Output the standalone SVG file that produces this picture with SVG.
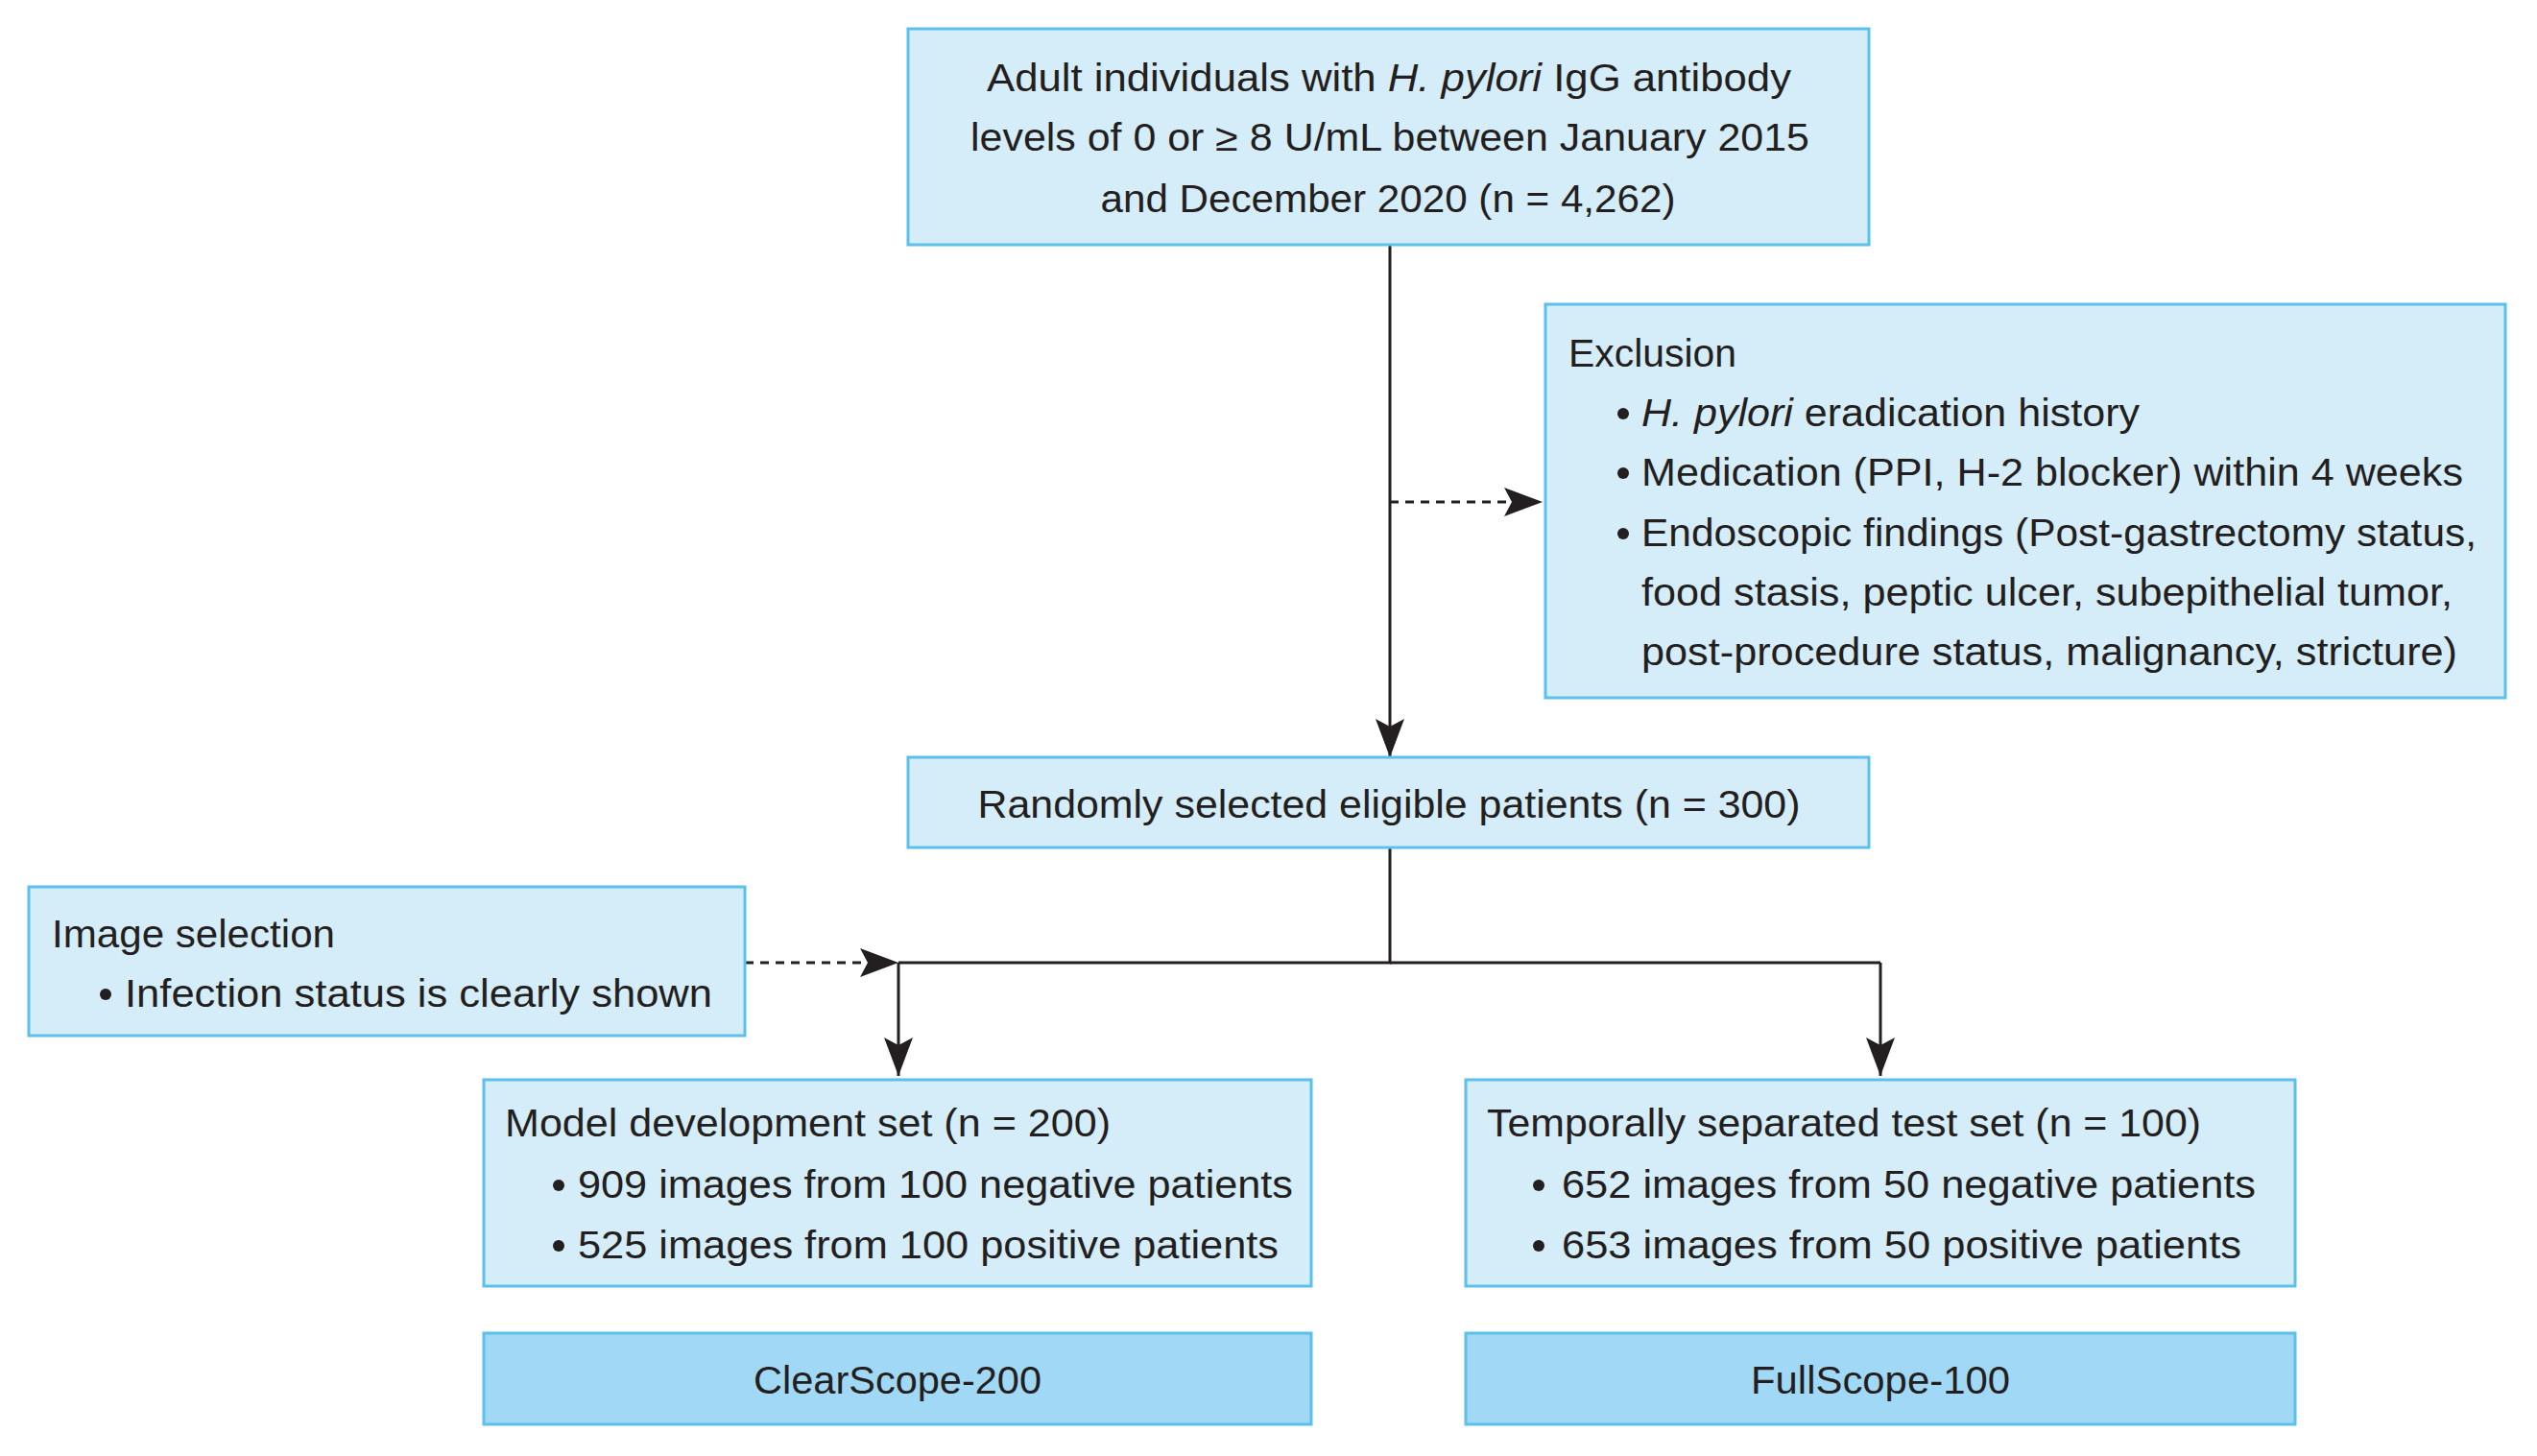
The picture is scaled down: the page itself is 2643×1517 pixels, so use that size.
<svg xmlns="http://www.w3.org/2000/svg" width="2643" height="1517" viewBox="0 0 2643 1517">
<style>
.b{fill:#d5ecf9;stroke:#5bc0eb;stroke-width:3}
.d{fill:#a0d8f5;stroke:#5bc0eb;stroke-width:3}
text{font-family:"Liberation Sans",Arial,sans-serif;font-size:40px;fill:#231f20}
.c{text-anchor:middle}
.l{fill:none;stroke:#231f20;stroke-width:3}
.ds{stroke-dasharray:9 7}
.dot{fill:#231f20}
</style>
<defs>
<marker id="a" viewBox="0 0 40 30" refX="40" refY="15" markerWidth="40" markerHeight="30" markerUnits="userSpaceOnUse" orient="auto"><path d="M0,0 L40,15 L0,30 L8,15 Z" fill="#231f20"/></marker>
</defs>
<rect width="2643" height="1517" fill="#fff"/>
<g id="connectors">
<line class="l" x1="1448" y1="255" x2="1448" y2="789" marker-end="url(#a)"/>
<line class="l ds" x1="1448" y1="523" x2="1607" y2="523" marker-end="url(#a)"/>
<polyline class="l" points="1448,883 1448,1003 936,1003"/>
<line class="l" x1="1448" y1="1003" x2="1959" y2="1003"/>
<line class="l" x1="936" y1="1003" x2="936" y2="1121" marker-end="url(#a)"/>
<line class="l" x1="1959" y1="1003" x2="1959" y2="1121" marker-end="url(#a)"/>
<line class="l ds" x1="776" y1="1003" x2="936" y2="1003" marker-end="url(#a)"/>
</g>
<g id="top">
<rect class="b" x="946" y="30" width="1001" height="225"/>
<text class="c" x="1447" y="95" textLength="838" lengthAdjust="spacingAndGlyphs">Adult individuals with <tspan font-style="italic">H. pylori</tspan> IgG antibody</text>
<text class="c" x="1448" y="157" textLength="874" lengthAdjust="spacingAndGlyphs">levels of 0 or ≥ 8 U/mL between January 2015</text>
<text class="c" x="1446" y="221" textLength="599" lengthAdjust="spacingAndGlyphs">and December 2020 (n = 4,262)</text>
</g>
<g id="exclusion">
<rect class="b" x="1610" y="317" width="1000" height="410"/>
<text x="1634" y="382" textLength="175" lengthAdjust="spacingAndGlyphs">Exclusion</text>
<circle class="dot" cx="1691" cy="431" r="6"/><circle class="dot" cx="1691" cy="493" r="6"/><circle class="dot" cx="1691" cy="556" r="6"/>
<text x="1710" y="444" textLength="519" lengthAdjust="spacingAndGlyphs"><tspan font-style="italic">H. pylori</tspan> eradication history</text>
<text x="1710" y="506" textLength="856" lengthAdjust="spacingAndGlyphs">Medication (PPI, H-2 blocker) within 4 weeks</text>
<text x="1710" y="569" textLength="870" lengthAdjust="spacingAndGlyphs">Endoscopic findings (Post-gastrectomy status,</text>
<text x="1710" y="631" textLength="845" lengthAdjust="spacingAndGlyphs">food stasis, peptic ulcer, subepithelial tumor,</text>
<text x="1710" y="693" textLength="850" lengthAdjust="spacingAndGlyphs">post-procedure status, malignancy, stricture)</text>
</g>
<g id="random">
<rect class="b" x="946" y="789" width="1001" height="94"/>
<text class="c" x="1447" y="852" textLength="857" lengthAdjust="spacingAndGlyphs">Randomly selected eligible patients (n = 300)</text>
</g>
<g id="imgsel">
<rect class="b" x="30" y="924" width="746" height="155"/>
<text x="54" y="987" textLength="295" lengthAdjust="spacingAndGlyphs">Image selection</text>
<circle class="dot" cx="110" cy="1036" r="6"/>
<text x="130" y="1049" textLength="612" lengthAdjust="spacingAndGlyphs">Infection status is clearly shown</text>
</g>
<g id="model">
<rect class="b" x="504" y="1125" width="862" height="215"/>
<text x="526" y="1184" textLength="631" lengthAdjust="spacingAndGlyphs">Model development set (n = 200)</text>
<circle class="dot" cx="582" cy="1235" r="6"/><circle class="dot" cx="582" cy="1298" r="6"/>
<text x="602" y="1248" textLength="745" lengthAdjust="spacingAndGlyphs">909 images from 100 negative patients</text>
<text x="602" y="1311" textLength="730" lengthAdjust="spacingAndGlyphs">525 images from 100 positive patients</text>
</g>
<g id="test">
<rect class="b" x="1527" y="1125" width="864" height="215"/>
<text x="1549" y="1184" textLength="744" lengthAdjust="spacingAndGlyphs">Temporally separated test set (n = 100)</text>
<circle class="dot" cx="1603" cy="1235" r="6"/><circle class="dot" cx="1603" cy="1298" r="6"/>
<text x="1627" y="1248" textLength="723" lengthAdjust="spacingAndGlyphs">652 images from 50 negative patients</text>
<text x="1627" y="1311" textLength="708" lengthAdjust="spacingAndGlyphs">653 images from 50 positive patients</text>
</g>
<g id="clear">
<rect class="d" x="504" y="1389" width="862" height="95"/>
<text class="c" x="935" y="1452" textLength="300" lengthAdjust="spacingAndGlyphs">ClearScope-200</text>
</g>
<g id="full">
<rect class="d" x="1527" y="1389" width="864" height="95"/>
<text class="c" x="1959" y="1452" textLength="270" lengthAdjust="spacingAndGlyphs">FullScope-100</text>
</g>
</svg>
